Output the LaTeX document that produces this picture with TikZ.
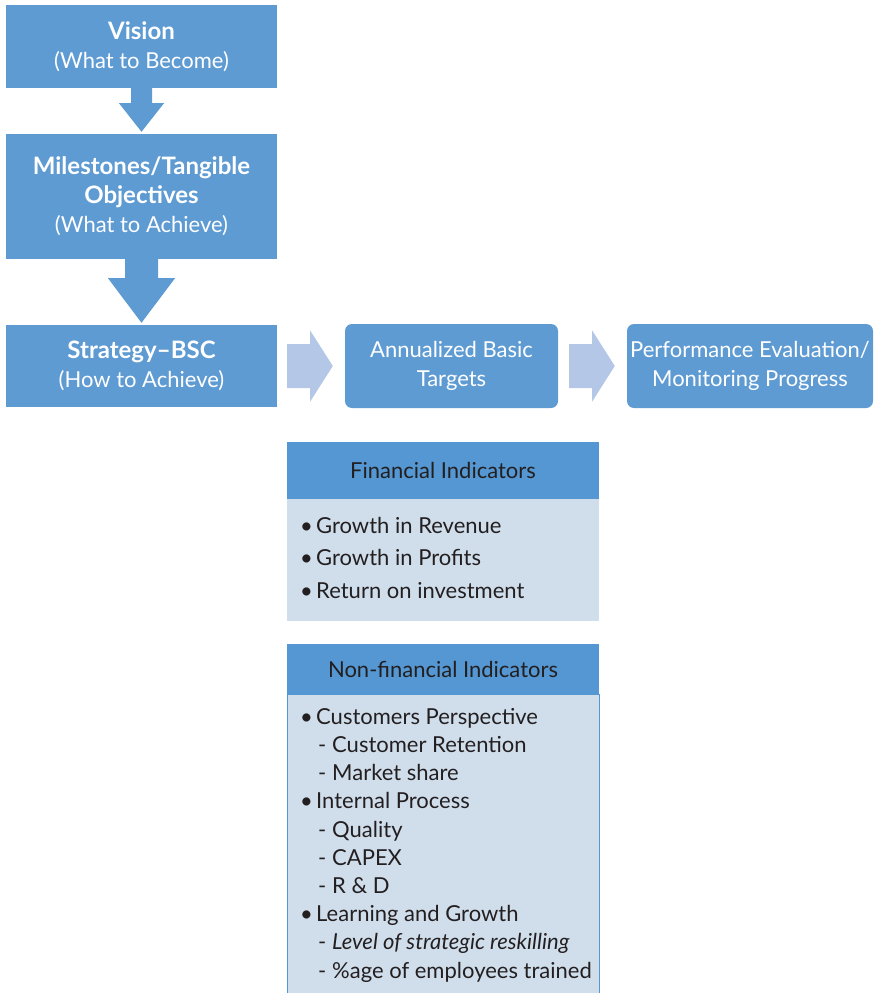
\documentclass[tikz,border=0pt]{standalone}
\usepackage{fontspec}
\setmainfont{Lato}
\usetikzlibrary{calc}
\definecolor{bsblue}{RGB}{94,155,211}
\definecolor{bshead}{RGB}{84,151,210}
\definecolor{bsbody}{RGB}{208,222,236}
\definecolor{bsarrow}{RGB}{180,199,231}
\definecolor{bstext}{RGB}{35,31,32}
\newcommand{\bitem}[1]{\makebox[16pt][l]{\textbullet}#1}
\newcommand{\ditem}[1]{\hspace{18pt}\makebox[14pt][l]{-}#1}
\newcommand{\stagetitle}[1]{{\fontsize{24}{29}\selectfont\textbf{#1}}}

\begin{document}
\begin{tikzpicture}[
    x=1pt, y=-1pt,
    every node/.style={font=\fontsize{22}{29}\selectfont},
    stagebox/.style={fill=bsblue, text=white, align=center, inner sep=0pt,
        minimum width=271pt},
    targetbox/.style={stagebox, rounded corners=7pt, minimum height=84pt},
    headbox/.style={fill=bshead, text=bstext, inner sep=0pt,
        minimum width=312pt},
    listtext/.style={anchor=north west, inner sep=0pt, align=left,
        text=bstext},
]
    \useasboundingbox (0,0) rectangle (874,993);

    % Left column: vision -> milestones -> strategy
    \node[stagebox, minimum height=83pt] (vision) at (141.5,46.5)
        {\stagetitle{Vision}\\(What to Become)};
    \node[stagebox, minimum height=125pt] (milestones) at (141.5,196.5)
        {\stagetitle{Milestones/Tangible}\\\stagetitle{Objectives}\\(What to Achieve)};
    \node[stagebox, minimum height=82pt] (strategy) at (141.5,366)
        {\stagetitle{Strategy--BSC}\\(How to Achieve)};

    % Block arrows going down
    \fill[bsblue] ($(vision.south)+(-10.5,0)$) -- ++(0,15) -- ++(-12,0)
        -- ($(milestones.north)+(0,-2)$)
        -- ($(vision.south)+(22.5,15)$) -- ++(-12,0) -- ++(0,-15) -- cycle;
    \fill[bsblue] ($(milestones.south)+(-16.5,0)$) -- ++(0,19) -- ++(-17,0)
        -- ($(strategy.north)+(0,-2)$)
        -- ($(milestones.south)+(33.5,19)$) -- ++(-17,0) -- ++(0,-19) -- cycle;

    % Top row: targets and evaluation
    \node[targetbox, minimum width=213pt] (targets) at (451.5,366)
        {Annualized Basic\\Targets};
    \node[targetbox, minimum width=246pt] (evaluation) at (750,366)
        {Performance Evaluation/\\Monitoring Progress};

    % Block arrows going right
    \fill[bsarrow] ($(strategy.east)+(10,-22)$) -- ++(23,0) -- ++(0,-13.5)
        -- ($(targets.west)+(-12,0)$)
        -- ($(strategy.east)+(33,35.5)$) -- ++(0,-13.5) -- ++(-23,0) -- cycle;
    \fill[bsarrow] ($(targets.east)+(11,-22)$) -- ++(23,0) -- ++(0,-13.5)
        -- ($(evaluation.west)+(-12,0)$)
        -- ($(targets.east)+(34,35.5)$) -- ++(0,-13.5) -- ++(-23,0) -- cycle;

    % Financial indicators
    \node[headbox, minimum height=57pt] (finhead) at (443,470.5)
        {Financial Indicators};
    \node[fill=bsbody, minimum width=312pt, minimum height=122pt,
        inner sep=0pt, anchor=north] (finbody) at (finhead.south) {};
    \node[listtext, font=\fontsize{22}{32.5}\selectfont] (finlist)
        at (300,517)
        {\bitem{Growth in Revenue}\\
         \bitem{Growth in Profits}\\
         \bitem{Return on investment}};

    % Non-financial indicators
    \node[headbox, minimum height=50pt] (nonhead) at (443,669)
        {Non-financial Indicators};
    \node[fill=bsbody, draw=bshead, line width=0.8pt, minimum width=312pt,
        minimum height=310pt, inner sep=0pt, anchor=north] (nonbody)
        at (nonhead.south) {};
    \node[listtext, font=\fontsize{22}{28.2}\selectfont] (nonlist)
        at (300,708)
        {\bitem{Customers Perspective}\\
         \ditem{Customer Retention}\\
         \ditem{Market share}\\
         \bitem{Internal Process}\\
         \ditem{Quality}\\
         \ditem{CAPEX}\\
         \ditem{R \& D}\\
         \bitem{Learning and Growth}\\
         \ditem{\textit{Level of strategic reskilling}}\\
         \ditem{\%age of employees trained}};
\end{tikzpicture}
\end{document}
